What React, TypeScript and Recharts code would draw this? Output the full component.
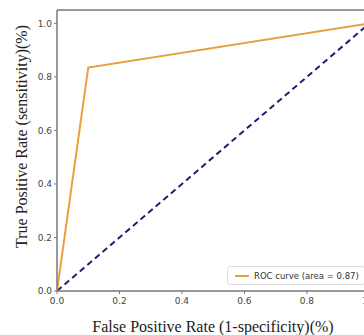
import React from "react";
import { LineChart, Line, XAxis, YAxis, ReferenceLine } from "recharts";

const rocFpr = [0, 0.1, 1];
const rocTpr = [0, 0.835, 1];
const diagFpr = [0, 1];
const diagTpr = [0, 1];
const tickValues = [0, 0.2, 0.4, 0.6, 0.8, 1.0];
const legendLabel = "ROC curve (area = 0.87)";
const xLabel = "False Positive Rate (1-specificity)(%)";
const yLabel = "True Positive Rate (sensitivity)(%)";

const rocData = rocFpr.map((x, i) => ({ x, y: rocTpr[i] }));
const diagData = diagFpr.map((x, i) => ({ x, y: diagTpr[i] }));

const tickStyle = { fontFamily: "DejaVu Sans", fontSize: 9, fill: "#444" };
const labelStyle = { fontFamily: "Liberation Serif", fontSize: 16, fill: "#222", textAnchor: "middle" as const };

export default function App() {
  return (
    <div style={{ position: "absolute", left: 0, top: 0, width: 364, height: 335, overflow: "hidden", background: "#fff" }}>
      <LineChart width={392} height={335} margin={{ top: 10, right: 7, bottom: 0, left: 0 }}>
        <XAxis
          type="number"
          dataKey="x"
          domain={[0, 1.05]}
          ticks={tickValues}
          tickFormatter={(v: number) => v.toFixed(1)}
          tick={tickStyle}
          axisLine={{ stroke: "#777", strokeWidth: 1.5 }}
          tickLine={{ stroke: "#777" }}
          tickSize={3}
          tickMargin={4}
          height={44}
          allowDataOverflow
          label={{ value: xLabel, position: "insideBottom", offset: 3, dx: -8, style: labelStyle }}
        />
        <YAxis
          type="number"
          dataKey="y"
          domain={[0, 1.05]}
          ticks={tickValues}
          tickFormatter={(v: number) => v.toFixed(1)}
          tick={tickStyle}
          axisLine={{ stroke: "#777", strokeWidth: 1.5 }}
          tickLine={{ stroke: "#777" }}
          tickSize={3}
          width={57}
          allowDataOverflow
          label={{ value: yLabel, angle: -90, position: "insideLeft", offset: 21, dy: -14, style: labelStyle }}
        />
        <ReferenceLine y={1.05} stroke="#777" strokeWidth={1.5} ifOverflow="visible" />
        <Line data={diagData} dataKey="y" stroke="#1c1f6e" strokeWidth={2} strokeDasharray="6 4" dot={false} isAnimationActive={false} />
        <Line data={rocData} dataKey="y" stroke="#e9a03c" strokeWidth={2} dot={false} isAnimationActive={false} />
      </LineChart>
      <div
        style={{
          position: "absolute",
          left: 227,
          top: 266,
          border: "1px solid #ddd",
          borderRadius: 3,
          background: "#fff",
          padding: "0 5px 0 7px",
          display: "flex",
          alignItems: "center",
          fontFamily: "DejaVu Sans",
          fontSize: 8.5,
          color: "#333",
          whiteSpace: "nowrap",
          height: 19,
          boxSizing: "border-box",
        }}
      >
        <span style={{ display: "inline-block", width: 14, height: 2, background: "#e9a03c", marginRight: 5 }} />
        {legendLabel}
      </div>
    </div>
  );
}
